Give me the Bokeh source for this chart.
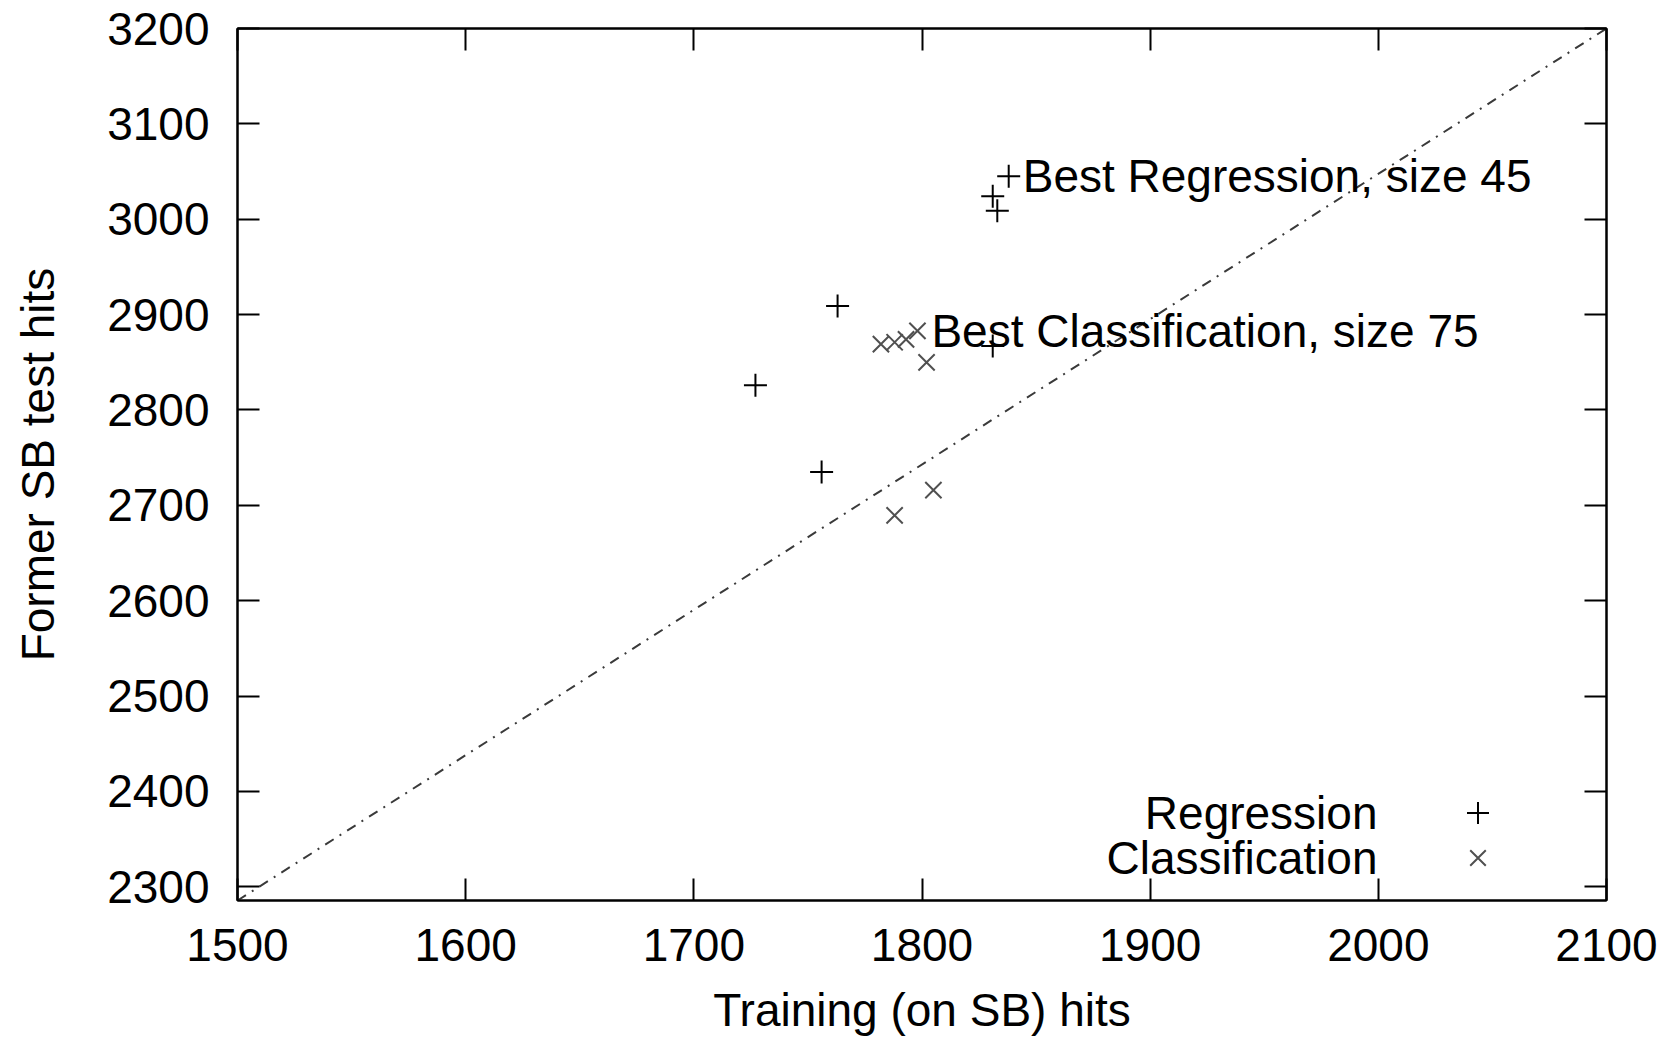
from bokeh.plotting import figure
from bokeh.models import Range1d, FixedTicker, LinearAxis, Legend, LegendItem, Label
from bokeh.core.properties import value
from bokeh.embed import file_html
from bokeh.resources import INLINE

# ---- data ----
reg_x = [1838, 1831, 1833, 1763, 1727, 1756, 1831]
reg_y = [3045, 3024, 3009, 2909, 2826, 2735, 2867]
cls_x = [1782, 1788, 1793, 1798, 1802, 1788, 1805]
cls_y = [2869, 2871, 2874, 2883, 2850, 2689.5, 2716]
diag_x = [1500, 2100]
diag_y = [2285.7, 3200]
x_ticks = [1500, 1600, 1700, 1800, 1900, 2000, 2100]
y_ticks = [2300, 2400, 2500, 2600, 2700, 2800, 2900, 3000, 3100, 3200]
ann_x = [1838, 1798]
ann_y = [3045, 2883]
ann_text = ["Best Regression, size 45", "Best Classification, size 75"]
legend_labels = ["Regression", "Classification"]
x_title = "Training (on SB) hits"
y_title = "Former SB test hits"

FONT = "Liberation Sans"
FS = "46px"
REG_COLOR = "#000000"
CLS_COLOR = "#505050"

p = figure(width=1677, height=1038, output_backend="svg", toolbar_location=None,
           x_range=Range1d(1500, 2100), y_range=Range1d(2285.7, 3200),
           min_border_left=237, min_border_right=71, min_border_top=28,
           min_border_bottom=135, x_axis_location=None, y_axis_location=None)
p.grid.visible = False
p.outline_line_color = "black"
p.outline_line_width = 2
p.background_fill_color = "white"
p.border_fill_color = "white"


def base_axis(ax):
    ax.major_tick_in = 22
    ax.major_tick_out = 0
    ax.minor_tick_in = 22
    ax.minor_tick_out = 0
    ax.major_tick_line_width = 2
    ax.minor_tick_line_width = 2
    ax.major_tick_line_color = "black"
    ax.minor_tick_line_color = "black"
    ax.axis_line_width = 2
    ax.axis_line_color = "black"
    return ax


def labelled_axis(ticks, title):
    ax = base_axis(LinearAxis(ticker=FixedTicker(ticks=ticks)))
    ax.minor_tick_in = 0
    ax.major_label_text_font = FONT
    ax.major_label_text_font_size = FS
    ax.major_label_text_color = "black"
    ax.major_label_standoff = 28
    ax.axis_label = title
    ax.axis_label_text_font = FONT
    ax.axis_label_text_font_size = FS
    ax.axis_label_text_font_style = "normal"
    ax.axis_label_text_color = "black"
    return ax


def mirror_axis(ticks):
    # ticks only (as minor ticks, so no labels are drawn)
    return base_axis(LinearAxis(ticker=FixedTicker(ticks=[], minor_ticks=ticks)))


xb = labelled_axis(x_ticks, x_title)
xb.axis_label_standoff = 20
yl = labelled_axis(y_ticks, y_title)
yl.axis_label_standoff = 40
p.add_layout(xb, "below")
p.add_layout(yl, "left")
p.add_layout(mirror_axis(x_ticks), "above")
p.add_layout(mirror_axis(y_ticks), "right")

# diagonal reference line
p.line(diag_x, diag_y, line_color="#3a3a3a", line_width=2, line_dash="10 7 2 7")

r_reg = p.scatter(reg_x, reg_y, marker="cross", size=23, line_color=REG_COLOR, line_width=2)
r_cls = p.scatter(cls_x, cls_y, marker="x", size=23, line_color=CLS_COLOR, line_width=2)

p.text(ann_x, ann_y, text=ann_text, x_offset=14, text_baseline="middle",
       text_align="left", text_font=value(FONT), text_font_size=value(FS),
       text_color="black")

# legend: markers via Legends, texts right-aligned to their left (gnuplot style)
for rend, ly in zip([r_reg, r_cls], [60, 15]):
    lg = Legend(items=[LegendItem(label=" ", renderers=[rend])],
                location=(1213, ly), glyph_width=55, glyph_height=55,
                padding=0, margin=0, label_standoff=0, label_width=0,
                label_text_font_size="10px", background_fill_alpha=0,
                border_line_alpha=0)
    p.add_layout(lg, "center")

for lab, yy in zip(legend_labels, [88, 43]):
    p.add_layout(Label(x=1140, y=yy, x_units="screen", y_units="screen", text=lab,
                       text_align="right", text_baseline="middle",
                       text_font=FONT, text_font_size=FS, text_color="black"))

open("out.html", "w").write(file_html(p, INLINE))
